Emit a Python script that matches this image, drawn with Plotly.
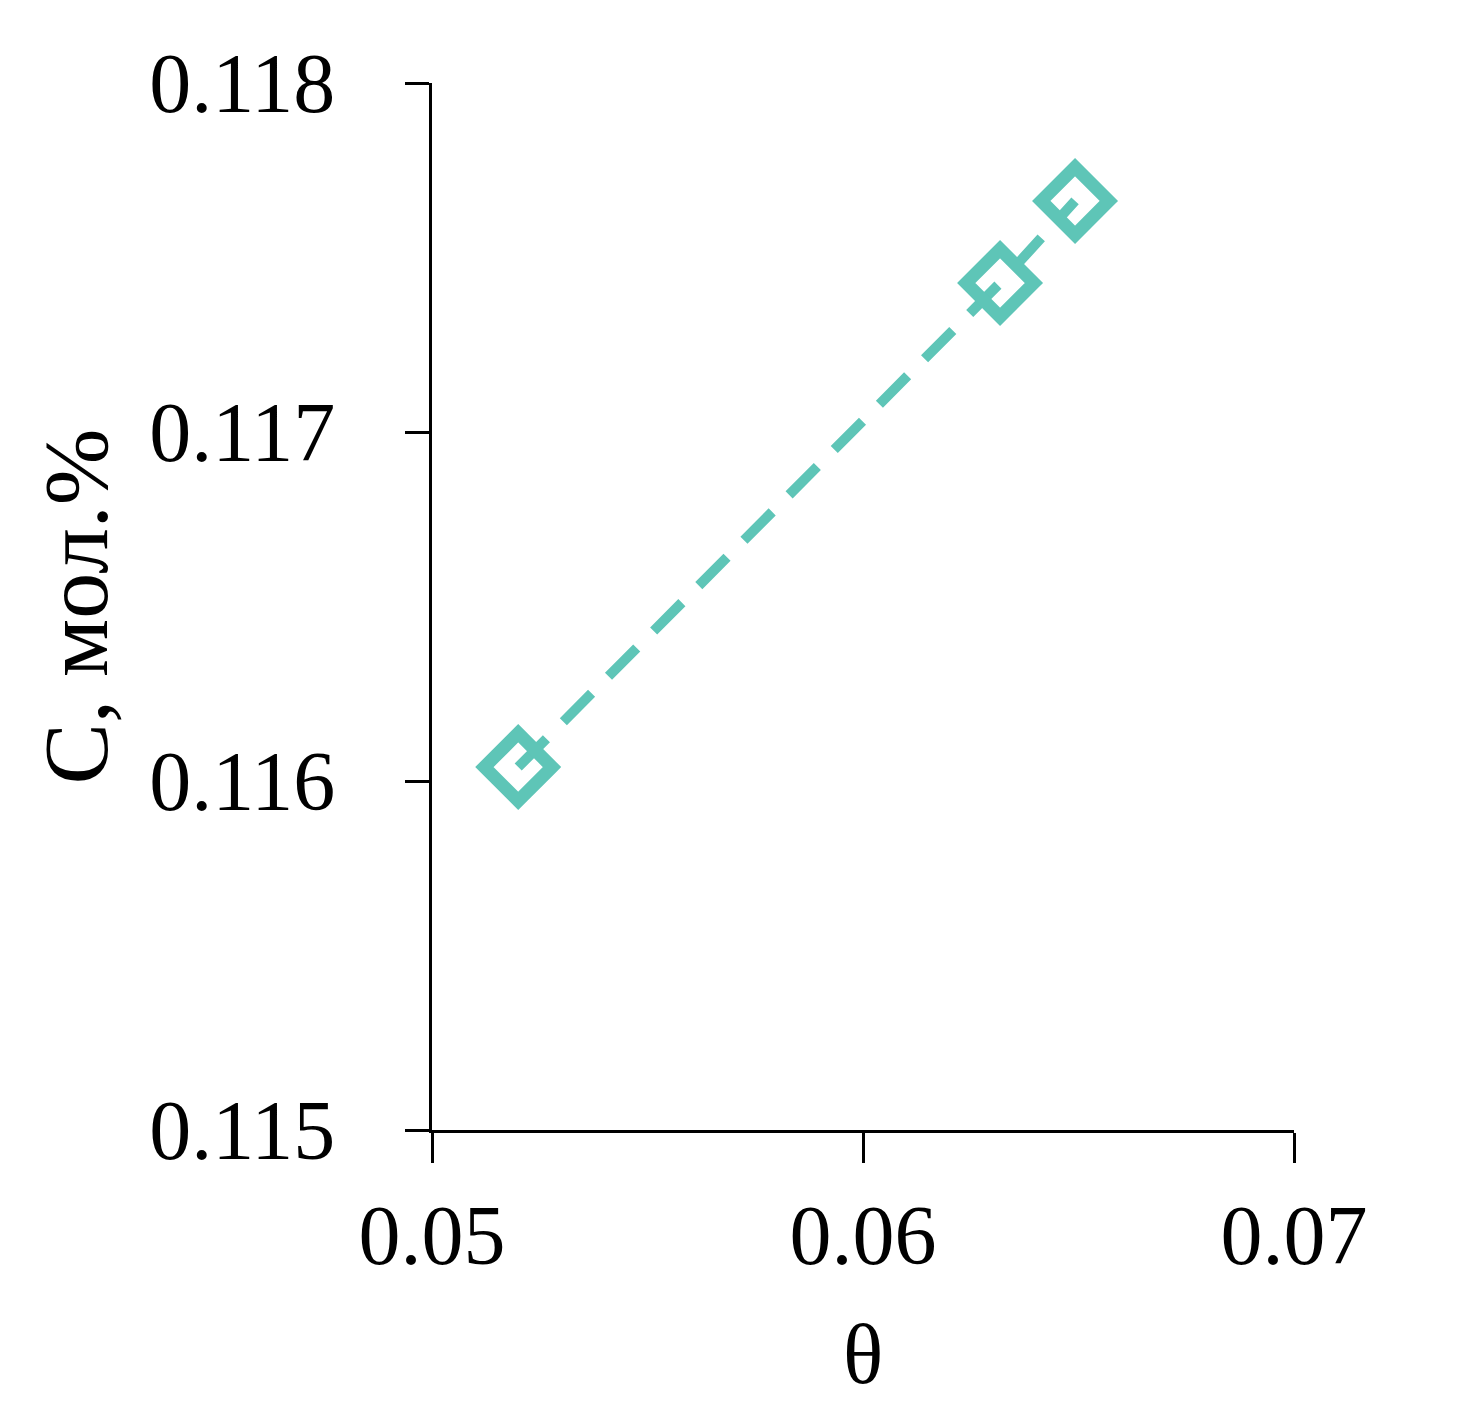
import plotly.graph_objects as go

theta = [0.0520, 0.06318, 0.06492]
conc = [0.11604, 0.117427, 0.117662]

x_ticks = [0.05, 0.06, 0.07]
x_tick_labels = ["0.05", "0.06", "0.07"]
y_ticks = [0.115, 0.116, 0.117, 0.118]
y_tick_labels = ["0.115", "0.116", "0.117", "0.118"]

color = "#5ec5b7"
font = "Liberation Serif, Times New Roman, serif"

fig = go.Figure()
fig.add_trace(go.Scatter(
    x=theta, y=conc, mode="lines+markers",
    line=dict(color=color, width=10, dash="40px,24px"),
    marker=dict(symbol="diamond-open", size=52, color=color,
                line=dict(color=color, width=13)),
    showlegend=False,
))

fig.update_layout(
    width=1484, height=1428,
    margin=dict(l=424, r=198, t=75, b=306),
    paper_bgcolor="white", plot_bgcolor="white",
    font=dict(family=font, color="black", size=84),
)
fig.update_xaxes(
    range=[0.05, 0.07], tickvals=x_ticks, ticktext=x_tick_labels,
    showgrid=False, zeroline=False, showline=True, linecolor="black", linewidth=3,
    ticks="outside", ticklen=30, tickwidth=3, tickcolor="black",
    tickfont=dict(family=font, size=84), ticklabelstandoff=0,
    title=dict(text="θ", font=dict(family=font, size=84), standoff=44),
)
fig.update_yaxes(
    range=[0.115, 0.118], tickvals=y_ticks, ticktext=y_tick_labels,
    showgrid=False, zeroline=False, showline=True, linecolor="black", linewidth=3,
    ticks="outside", ticklen=24, tickwidth=3, tickcolor="black",
    tickfont=dict(family=font, size=84), ticklabelstandoff=53,
    title=dict(text="C, мол.%", font=dict(family=font, size=92), standoff=12),
)

fig.write_html("out.html")
